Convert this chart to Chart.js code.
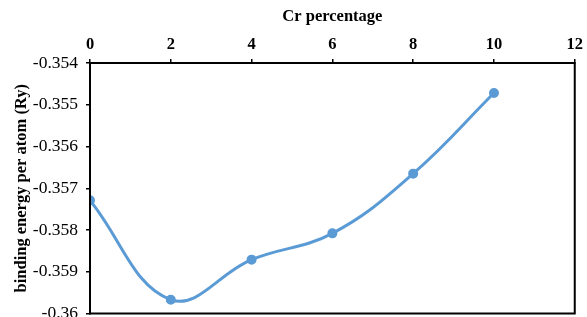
<!DOCTYPE html>
<html>
<head>
<meta charset="utf-8">
<script src="https://cdn.jsdelivr.net/npm/chart.js@4"></script>
<style>
  html, body { margin: 0; padding: 0; background: #fff; overflow: hidden; width: 587px; height: 317px; }
  #wrap { width: 587px; height: 332px; }
</style>
</head>
<body>
<div id="wrap"><canvas id="grafico" width="587" height="332"></canvas></div>
<script>
// valores
const crPercent = [0, 2, 4, 6, 8, 10];
const bindingEnergy = [-0.35729, -0.35967, -0.35871, -0.35808, -0.35665, -0.35472];
const xTicks = { min: 0, max: 12, step: 2 };
const yTicks = { min: -0.36, max: -0.354, step: 0.001 };

const azul = '#5B9BD5';
const fonte = 'Liberation Serif, Times New Roman, serif';

// moldura do gráfico (lados direito e inferior)
const moldura = {
  id: 'moldura',
  afterDraw(chart) {
    const { ctx, chartArea: a } = chart;
    ctx.save();
    ctx.strokeStyle = '#000';
    ctx.lineWidth = 2;
    ctx.strokeRect(a.left, a.top, a.right - a.left, a.bottom - a.top);
    ctx.restore();
  }
};

new Chart(document.getElementById('grafico'), {
  type: 'line',
  data: {
    datasets: [{
      data: crPercent.map((x, i) => ({ x, y: bindingEnergy[i] })),
      borderColor: azul,
      backgroundColor: azul,
      borderWidth: 3,
      pointRadius: 3.5,
      tension: 0.4,
      fill: false
    }]
  },
  options: {
    responsive: false,
    animation: false,
    layout: { padding: { right: 6, left: 0, top: 0, bottom: 0 } },
    plugins: { legend: { display: false }, tooltip: { enabled: false } },
    scales: {
      x: {
        type: 'linear',
        position: 'top',
        min: xTicks.min, max: xTicks.max,
        ticks: { stepSize: xTicks.step, color: '#000', padding: 4,
                 font: { family: fonte, size: 16.5, weight: 'bold' } },
        grid: { drawOnChartArea: false, drawTicks: true, tickLength: 4, color: '#000', lineWidth: 1.5 },
        border: { color: '#000', width: 2 },
        title: { display: true, text: 'Cr percentage', color: '#000', padding: { top: 7, bottom: 0 },
                 font: { family: fonte, size: 16.5, weight: 'bold' } },
        afterFit: s => { s.height = 63; }
      },
      y: {
        type: 'linear',
        min: yTicks.min, max: yTicks.max,
        ticks: { stepSize: yTicks.step, color: '#000', padding: 8,
                 font: { family: fonte, size: 17.5 },
                 callback: v => String(+v.toFixed(3)) },
        grid: { drawOnChartArea: false, drawTicks: true, tickLength: 4, color: '#000', lineWidth: 1.5 },
        border: { color: '#000', width: 2 },
        title: { display: true, text: 'binding energy per atom (Ry)', color: '#000', padding: { top: 12, bottom: 0 },
                 font: { family: fonte, size: 16.5, weight: 'bold' } },
        afterFit: s => { s.width = 90; }
      }
    }
  },
  plugins: [moldura]
});
</script>
</body>
</html>
